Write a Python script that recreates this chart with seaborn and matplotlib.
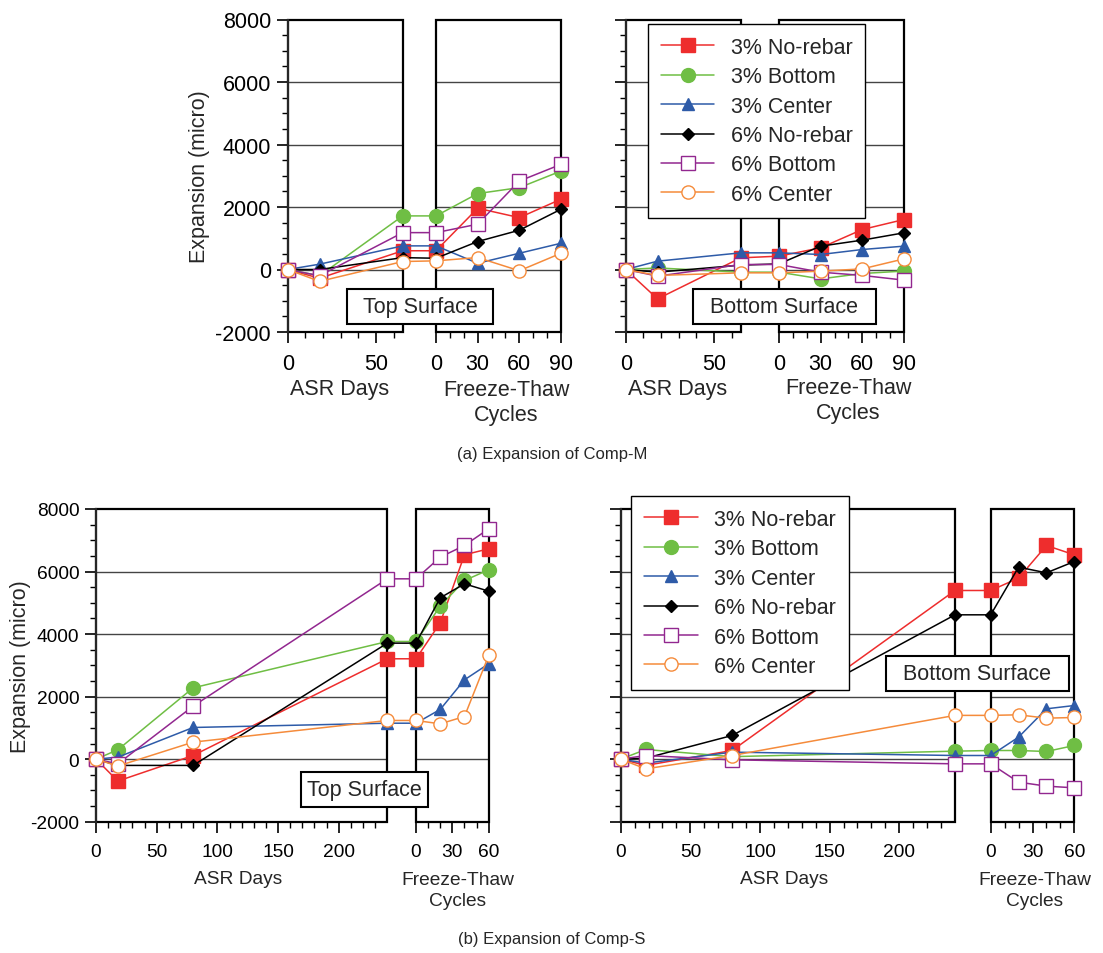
import seaborn as sns
import matplotlib.pyplot as plt
from matplotlib.patches import Rectangle

W, H = 1103, 954

names = ["3% No-rebar", "3% Bottom", "3% Center", "6% No-rebar", "6% Bottom", "6% Center"]
colors = ["#EE2D2D", "#6FBE44", "#2E5BA8", "#000000", "#92278F", "#F58B3B"]
markers = ["s", "o", "^", "D", "s", "o"]
filled = [True, True, True, True, False, False]
msizes = [9.5, 10, 9, 6, 9.5, 9.5]

# Comp-M: ASR days / freeze-thaw cycles
m_days = [0, 18, 65]
m_cycles = [0, 30, 60, 90]
m_top_asr = [[0, -280, 600], [0, -200, 1715], [0, 170, 756],
             [0, 0, 380], [0, -200, 1180], [0, -380, 255]]
m_top_ft = [[600, 1960, 1660, 2250], [1715, 2430, 2620, 3150], [756, 200, 520, 840],
            [360, 895, 1257, 1928], [1180, 1450, 2830, 3365], [277, 383, -40, 520]]
m_bot_asr = [[0, -940, 373], [0, 50, -85], [0, 267, 533],
             [0, -85, 140], [0, -213, 160], [0, -190, -107]]
m_bot_ft = [[427, 694, 1280, 1600], [-85, -300, -128, -50], [533, 480, 640, 747],
            [180, 747, 940, 1174], [160, -85, -190, -340], [-107, -53, 20, 340]]

# Comp-S
s_days = [0, 18, 80, 240]
s_cycles = [0, 20, 40, 60]
s_top_asr = [[0, -700, 117, 3210], [0, 300, 2280, 3763], [0, 64, 1013, 1150],
             [0, -200, -200, 3710], [0, -150, 1695, 5767], [0, -220, 544, 1237]]
s_top_ft = [[3210, 4360, 6535, 6727], [3763, 4893, 5714, 6055], [1150, 1590, 2537, 3050],
            [3710, 5160, 5607, 5373], [5767, 6460, 6833, 7366], [1237, 1130, 1364, 3315]]
s_bot_asr = [[0, -200, 277, 5394], [0, 309, 80, 256], [0, -128, 224, 117],
             [0, 32, 757, 4616], [0, 117, -21, -150], [0, -310, 117, 1400]]
s_bot_ft = [[5394, 5790, 6833, 6535], [277, 277, 245, 437], [117, 704, 1610, 1716],
            [4616, 6140, 5959, 6321], [-150, -735, -863, -917], [1400, 1418, 1311, 1333]]

sns.set_theme(style="ticks")
plt.rcParams["font.family"] = ["Liberation Sans", "DejaVu Sans"]
plt.rcParams["axes.unicode_minus"] = False

fig = plt.figure(figsize=(W / 100, H / 100), dpi=100)

s_minor = [d for d in range(10, 240, 10) if d % 50]

# pixel geometry: asr0, asr_end, ft0, ft_end, y_top, y_bottom
panels = [
    dict(geo=(287.7, 402.7, 436, 561, 20.5, 333), days=m_days, cycles=m_cycles,
         asr=m_top_asr, ft=m_top_ft, amax=65, fmax=90, amaj=[0, 50], amin=[10, 20, 30, 40, 60],
         fmaj=[0, 30, 60, 90], fmin=[10, 20, 40, 50, 70, 80], left=True, ylab_x=200,
         fs=15.5, box=("Top Surface", 347, 290, 146), lab=(340, 390, 506, 403), leg=None),
    dict(geo=(625.7, 740.7, 779, 904, 20.5, 333), days=m_days, cycles=m_cycles,
         asr=m_bot_asr, ft=m_bot_ft, amax=65, fmax=90, amaj=[0, 50], amin=[10, 20, 30, 40, 60],
         fmaj=[0, 30, 60, 90], fmin=[10, 20, 40, 50, 70, 80], left=False, ylab_x=None,
         fs=15.5, box=("Bottom Surface", 692.7, 290, 183), lab=(678, 390, 848, 401),
         leg=(647.7, 25)),
    dict(geo=(96, 387.3, 416, 488.7, 510, 822.7), days=s_days, cycles=s_cycles,
         asr=s_top_asr, ft=s_top_ft, amax=240, fmax=60, amaj=[0, 50, 100, 150, 200],
         amin=s_minor, fmaj=[0, 30, 60], fmin=[10, 20, 40, 50], left=True, ylab_x=21,
         fs=13.8, box=("Top Surface", 300.7, 772.7, 127), lab=(238, 880, 458, 891), leg=None),
    dict(geo=(620.7, 955, 990.7, 1074.3, 510, 822.7), days=s_days, cycles=s_cycles,
         asr=s_bot_asr, ft=s_bot_ft, amax=240, fmax=60, amaj=[0, 50, 100, 150, 200],
         amin=s_minor, fmaj=[0, 30, 60], fmin=[10, 20, 40, 50], left=False, ylab_x=None,
         fs=13.8, box=("Bottom Surface", 885.7, 657, 183.3), lab=(784, 880, 1035, 891),
         leg=(631, 497)),
]


def to_x(geo, amax, fmax, days, cycles):
    x0, xa, xf0, xf1 = geo[:4]
    xs = [d * (xa - x0) / amax for d in days]
    xs += [(xf0 - x0) + c * (xf1 - xf0) / fmax for c in cycles]
    return xs


for p in panels:
    x0, xa, xf0, xf1, yt, yb = p["geo"]
    fs = p["fs"]
    ax = fig.add_axes([x0 / W, 1 - yb / H, (xf1 - x0) / W, (yb - yt) / H])
    ax.set_xlim(0, xf1 - x0)
    ax.set_ylim(-2000, 8000)
    for s in ["top", "right", "bottom"]:
        ax.spines[s].set_visible(False)
    ax.spines["left"].set_linewidth(1.5)

    # grid and frames for the two sections
    for a, b in [(0, xa - x0), (xf0 - x0, xf1 - x0)]:
        ax.hlines([0, 2000, 4000, 6000], a, b, color="#444444", lw=1.0, zorder=0.5)
        ax.add_patch(Rectangle((a, -2000), b - a, 10000, fill=False, ec="black",
                               lw=1.6, zorder=1, clip_on=False))

    for i, name in enumerate(names):
        xs = to_x(p["geo"], p["amax"], p["fmax"], p["days"], p["cycles"])
        ys = p["asr"][i] + p["ft"][i]
        sns.lineplot(x=xs, y=ys, ax=ax, color=colors[i], marker=markers[i],
                     markersize=msizes[i], markeredgecolor=colors[i],
                     markerfacecolor=colors[i] if filled[i] else "white",
                     markeredgewidth=1.0, linewidth=1.1, label=name, legend=False,
                     estimator=None, sort=False, clip_on=False, zorder=3)

    maj = to_x(p["geo"], p["amax"], p["fmax"], p["amaj"], p["fmaj"])
    mnr = to_x(p["geo"], p["amax"], p["fmax"], p["amin"], p["fmin"])
    ax.set_xticks(maj)
    ax.set_xticklabels([str(v) for v in p["amaj"] + p["fmaj"]])
    ax.set_xticks(mnr, minor=True)
    ax.set_yticks([-2000, 0, 2000, 4000, 6000, 8000])
    ax.set_yticks(range(-2000, 8001, 500), minor=True)
    ax.tick_params(which="major", direction="out", length=8, width=1.2,
                   labelsize=fs, color="black", labelcolor="black")
    ax.tick_params(which="minor", direction="out", length=4.5, width=1.0, color="black")
    ax.tick_params(axis="x", pad=7)
    ax.tick_params(axis="y", pad=4, labelleft=p["left"])
    ax.set_xlabel("")
    ax.set_ylabel("")

    lx, ly, fx, fy = p["lab"]
    fig.text(lx / W, 1 - ly / H, "ASR Days", ha="center", va="center", fontsize=fs)
    fig.text(fx / W, 1 - fy / H, "Freeze-Thaw\nCycles", ha="center", va="center",
             fontsize=fs, linespacing=1.25)
    if p["ylab_x"] is not None:
        fig.text(p["ylab_x"] / W, 1 - (yt + yb) / 2 / H, "Expansion (micro)", rotation=90,
                 ha="center", va="center", fontsize=15.5)

    t, bx, by, bw = p["box"]
    fig.add_artist(Rectangle((bx / W, 1 - (by + 35) / H), bw / W, 35 / H,
                             transform=fig.transFigure, fc="white", ec="black",
                             lw=1.5, zorder=4))
    fig.text((bx + bw / 2) / W, 1 - (by + 17.5) / H, t, ha="center", va="center",
             fontsize=15.5, zorder=5)

    if p["leg"] is not None:
        gx, gy = p["leg"]
        leg = ax.legend(loc="upper left", bbox_to_anchor=(gx / W, 1 - gy / H),
                        bbox_transform=fig.transFigure, borderaxespad=0, frameon=True,
                        fancybox=False, edgecolor="black", framealpha=1, fontsize=15.5,
                        handlelength=2.5, handletextpad=0.75, labelspacing=0.39,
                        borderpad=0.6)
        leg.get_frame().set_linewidth(1.0)
        leg.set_zorder(6)

fig.text(552 / W, 1 - 455 / H, "(a) Expansion of Comp-M", ha="center", va="center", fontsize=12)
fig.text(552 / W, 1 - 940 / H, "(b) Expansion of Comp-S", ha="center", va="center", fontsize=12)

fig.savefig("out.png", dpi=100, facecolor="white")
